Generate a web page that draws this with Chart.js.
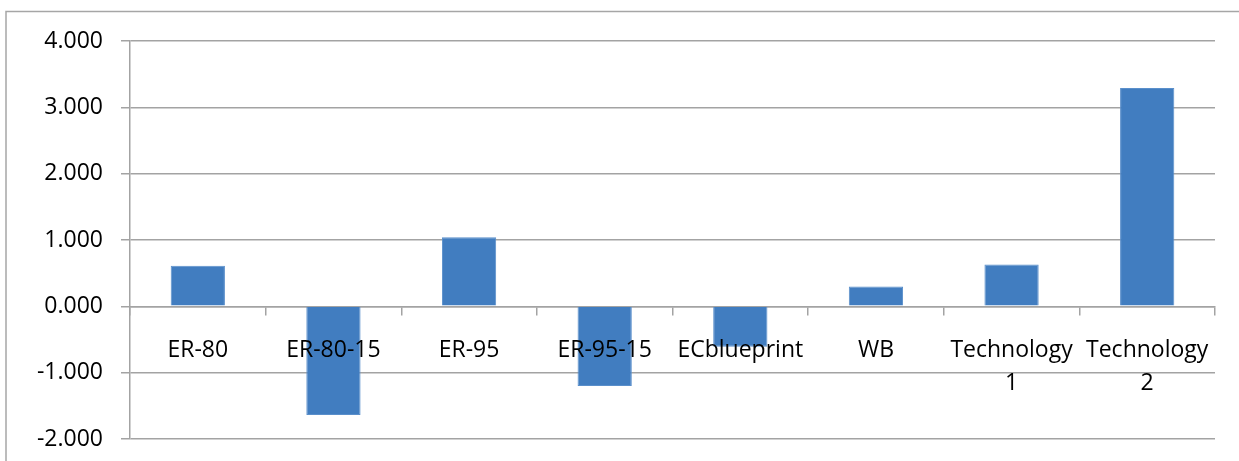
<!DOCTYPE html>
<html>
<head>
<meta charset="utf-8">
<script src="https://cdn.jsdelivr.net/npm/chart.js@4/dist/chart.umd.min.js"></script>
<style>
  html, body { margin: 0; padding: 0; background: #fff; }
  #wrap { position: relative; width: 1239px; height: 461px; }
  canvas { display: block; }
</style>
</head>
<body>
<div id="wrap"><canvas id="chart" width="1239" height="461"></canvas></div>
<script>
// Scenario labels (multi-line where the label wraps)
const categories = ['ER-80', 'ER-80-15', 'ER-95', 'ER-95-15', 'ECblueprint', 'WB', ['Technology', '1'], ['Technology', '2']];
// Value per scenario
const values = [0.61, -1.64, 1.04, -1.20, -0.61, 0.30, 0.63, 3.29];
// Value axis range and step
const yMin = -2;
const yMax = 4;
const yStep = 1;

const gridColor = '#a3a3a3';
const catFont = { family: 'Open Sans', size: 23, lineHeight: 1.43 };
const valFont = { family: 'Open Sans', size: 23, lineHeight: 1.0 };

// Light frame around the whole chart (left and top edges are visible)
const framePlugin = {
  id: 'frame',
  beforeDraw(chart) {
    const ctx = chart.ctx;
    ctx.save();
    ctx.strokeStyle = '#a6a6a6';
    ctx.lineWidth = 1.5;
    ctx.beginPath();
    ctx.moveTo(6, chart.height + 2);
    ctx.lineTo(6, 11.5);
    ctx.lineTo(chart.width + 2, 11.5);
    ctx.stroke();
    ctx.restore();
  }
};

new Chart(document.getElementById('chart'), {
  type: 'bar',
  data: {
    labels: categories,
    datasets: [{
      data: values,
      backgroundColor: '#417dc0',
      borderColor: '#5a8fcb',
      borderWidth: 1,
      barPercentage: 0.4,
      categoryPercentage: 1.0
    }]
  },
  options: {
    responsive: false,
    animation: false,
    devicePixelRatio: 1,
    layout: { padding: { left: 0, right: 24, top: 41, bottom: 22 } },
    plugins: {
      legend: { display: false },
      tooltip: { enabled: false },
      title: { display: false }
    },
    scales: {
      x: {
        type: 'category',
        position: { y: 0 },
        grid: {
          display: true,
          drawOnChartArea: false,
          drawTicks: true,
          tickLength: 8,
          color: gridColor,
          lineWidth: 1.5,
          offset: true
        },
        border: { display: true, color: gridColor, width: 1.5 },
        ticks: {
          z: 1,
          color: '#000',
          font: catFont,
          padding: 20,
          maxRotation: 0,
          autoSkip: false
        }
      },
      y: {
        min: yMin,
        max: yMax,
        grid: {
          color: gridColor,
          lineWidth: 1.5,
          drawTicks: true,
          tickLength: 9
        },
        border: { display: true, color: gridColor, width: 1.5 },
        ticks: {
          stepSize: yStep,
          color: '#000',
          font: valFont,
          padding: 18,
          callback: v => v.toFixed(3)
        },
        afterFit(scale) {
          scale.width = 130;
          scale.paddingTop = 0;
          scale.paddingBottom = 0;
        }
      }
    }
  },
  plugins: [framePlugin]
});
</script>
</body>
</html>
